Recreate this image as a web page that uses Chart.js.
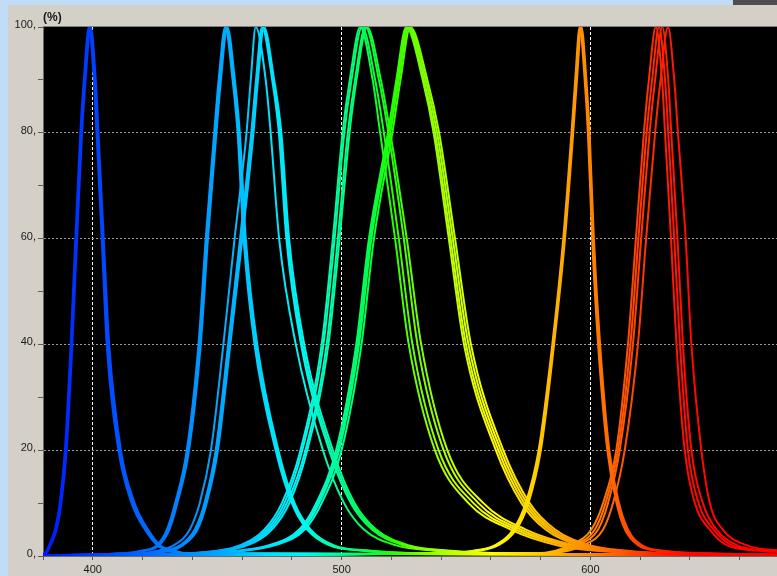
<!DOCTYPE html>
<html>
<head>
<meta charset="utf-8">
<script src="https://cdn.jsdelivr.net/npm/chart.js@4.4.1/dist/chart.umd.min.js"></script>
<style>
  html, body { margin: 0; padding: 0; background: #c0dcf6; }
  #wrap { width: 777px; height: 576px; }
</style>
</head>
<body>
<div id="wrap"><canvas id="grafico" width="777" height="576"></canvas></div>
<script>
const levels = [0.5, 1, 2, 5, 10, 20, 40, 60, 80, 90];

// ~398 nm
const uvPeaks = [398.4, 398.8, 399.2];
const uvLeft = [
  [380.6, 381.4, 382.4, 384.8, 386.7, 388.8, 391.1, 393.0, 395.0, 396.4],
  [380.9, 381.7, 382.7, 385.1, 387.0, 389.1, 391.4, 393.3, 395.3, 396.7],
  [381.2, 382.0, 383.0, 385.5, 387.4, 389.5, 391.8, 393.7, 395.7, 397.1]
];
const uvRight = [
  [436, 431, 426.0, 421.0, 415.6, 410.3, 405.6, 403.6, 401.5, 400.4],
  [437, 432, 426.6, 421.6, 416.2, 410.8, 406.1, 404.0, 401.9, 400.8],
  [438, 433, 427.2, 422.2, 416.8, 411.3, 406.6, 404.4, 402.3, 401.2]
];

// ~453 nm
const bluePeaks = [453.2, 453.6, 454.1];
const blueLeft = [
  [412, 419.5, 425.6, 429.8, 433.1, 437.8, 442.5, 445.4, 448.8, 450.6],
  [413, 420.0, 426.0, 430.2, 433.5, 438.2, 442.9, 445.8, 449.2, 451.0],
  [414, 421.0, 426.6, 430.8, 434.0, 438.7, 443.4, 446.3, 449.7, 451.5]
];
const blueRight = [
  [530, 508, 495.2, 486.2, 480.0, 473.5, 465.0, 460.6, 458.2, 456.2],
  [532, 510, 496.0, 486.9, 480.5, 474.0, 465.5, 461.0, 458.6, 456.6],
  [534, 512, 497.0, 487.6, 481.1, 474.6, 466.1, 461.5, 459.1, 457.1]
];

// ~468 nm
const cyanPeaks = [465.5, 468.0, 468.4, 468.8];
const cyanLeft = [
  [418, 426, 432.5, 439.0, 443.0, 447.5, 452.5, 457.0, 461.8, 463.5],
  [419, 429, 435.0, 441.0, 444.9, 449.4, 454.4, 459.2, 463.7, 465.6],
  [420, 430, 435.5, 441.5, 445.3, 449.8, 454.8, 459.6, 464.1, 466.0],
  [421, 431, 436.2, 442.1, 445.8, 450.3, 455.3, 460.1, 464.6, 466.4]
];
const cyanRight = [
  [560, 537, 522.0, 509.0, 501.0, 492.5, 481.6, 474.9, 471.5, 469.5],
  [563, 540, 525.0, 512.2, 503.7, 495.0, 483.7, 477.8, 474.8, 472.1],
  [565, 542, 526.0, 513.0, 504.4, 495.7, 484.3, 478.3, 475.3, 472.5],
  [567, 544, 527.2, 513.9, 505.2, 496.5, 485.0, 478.9, 475.8, 472.9]
];

// ~508 nm
const tealPeaks = [507.5, 508.2, 509.6, 510.2];
const tealLeft = [
  [436, 450, 459, 469, 476, 483.5, 492.0, 496.5, 500.4, 503.3],
  [437, 451, 460, 470, 477, 484.2, 492.7, 497.2, 501.1, 504.0],
  [438, 452, 461, 471, 478, 485.5, 494.0, 498.5, 502.5, 505.4],
  [439, 453, 462, 472, 479, 486.2, 494.7, 499.2, 503.2, 506.0]
];
const tealRight = [
  [622, 602, 587, 568, 551, 537.5, 527.0, 521.5, 515.5, 512.5],
  [625, 605, 590, 570, 553, 539.0, 528.5, 523.0, 517.0, 513.5],
  [628, 608, 592, 572, 555, 541.0, 530.5, 525.0, 518.8, 515.0],
  [630, 610, 594, 574, 557, 542.5, 532.0, 526.2, 519.6, 515.8]
];

// ~527 nm
const greenPeaks = [526.0, 526.5, 527.0, 527.6];
const greenLeft = [
  [443, 458, 470.5, 483.0, 489.8, 497.8, 505.9, 511.0, 518.6, 522.0],
  [444, 459, 471.5, 483.8, 490.5, 498.5, 506.5, 511.6, 519.2, 522.5],
  [445, 460, 472.0, 484.3, 491.0, 499.0, 507.0, 512.0, 519.6, 523.0],
  [446, 461, 473.0, 485.2, 492.0, 500.0, 508.0, 513.0, 520.4, 523.7]
];
const greenRight = [
  [627, 609, 595.5, 582.0, 572.3, 562.0, 549.2, 543.1, 537.0, 532.6],
  [629, 611, 597.0, 583.3, 573.4, 563.0, 550.0, 543.8, 537.6, 533.1],
  [631, 613, 598.6, 584.5, 574.5, 564.0, 551.0, 544.7, 538.4, 533.8],
  [633, 615, 600.0, 585.8, 575.6, 565.0, 552.0, 545.6, 539.2, 534.5]
];

// ~596 nm
const amberPeaks = [595.7, 596.0, 596.4];
const amberLeft = [
  [539, 553, 561.5, 569.0, 574.0, 579.2, 584.7, 589.1, 592.4, 593.9],
  [540, 554, 562.0, 569.5, 574.5, 579.6, 585.0, 589.4, 592.7, 594.2],
  [541, 555, 562.8, 570.2, 575.1, 580.1, 585.4, 589.8, 593.1, 594.6]
];
const amberRight = [
  [643, 626.5, 619.3, 613.9, 610.5, 606.8, 603.1, 600.7, 599.0, 597.7],
  [645, 628.0, 620.0, 614.5, 611.0, 607.2, 603.5, 601.0, 599.3, 598.0],
  [647, 629.5, 620.8, 615.1, 611.5, 607.6, 603.9, 601.4, 599.7, 598.4]
];

// ~628 nm
const redPeaks = [626.3, 627.6, 628.9, 631.2];
const redLeft = [
  [578, 586, 591.7, 600.4, 605.1, 610.4, 615.1, 618.3, 621.5, 623.5],
  [580, 588, 593.0, 601.8, 606.1, 611.1, 616.1, 619.3, 622.6, 624.8],
  [581, 589, 594.4, 603.1, 607.1, 611.8, 617.1, 620.4, 623.8, 626.0],
  [583, 591, 597.0, 605.1, 609.1, 613.8, 619.1, 622.4, 626.0, 628.2]
];
const redRight = [
  [690, 668, 655, 648.0, 642.0, 637.9, 634.6, 632.4, 630.0, 628.8],
  [692, 670, 657, 649.5, 643.5, 639.2, 636.0, 633.7, 631.3, 630.0],
  [695, 673, 659, 650.7, 645.2, 640.6, 637.2, 635.0, 632.5, 631.3],
  [700, 678, 663, 653.2, 648.0, 644.6, 640.6, 638.3, 635.2, 633.7]
];

const groups = [
  [uvPeaks, uvLeft, uvRight],
  [bluePeaks, blueLeft, blueRight],
  [cyanPeaks, cyanLeft, cyanRight],
  [tealPeaks, tealLeft, tealRight],
  [greenPeaks, greenLeft, greenRight],
  [amberPeaks, amberLeft, amberRight],
  [redPeaks, redLeft, redRight]
];

const xTicks = [400, 500, 600];
const yTicks = [0, 20, 40, 60, 80, 100];

// wavelength -> colour for the line gradient
const specNm = [380, 400, 425, 445, 455, 470, 485, 500, 510, 520, 530, 545, 560, 575, 590, 600, 612, 625, 640, 675];
const specCol = ['#0018ff', '#0040ff', '#0070ff', '#009cff', '#00b0ff', '#00e0ff', '#00f8f0', '#00ff90',
                 '#00ff50', '#20ff00', '#70ff00', '#c0ff00', '#ffff00', '#ffd800', '#ffa400', '#ff8400',
                 '#ff5a00', '#ff2a00', '#ff0800', '#ff0000'];

function curvePoints(peak, left, right) {
  const pts = [{x: 370, y: 0.1}];
  left.forEach((w, i) => pts.push({x: w, y: levels[i]}));
  pts.push({x: peak, y: 100});
  for (let i = right.length - 1; i >= 0; i--) pts.push({x: right[i], y: levels[i]});
  pts.push({x: 720, y: 0.1});
  return pts;
}

let grad = null;
function spectrum(context) {
  const chart = context.chart;
  if (!chart.chartArea || !chart.scales.x) return '#ffffff';
  if (!grad) {
    const sx = chart.scales.x;
    const x0 = sx.getPixelForValue(380);
    const x1 = sx.getPixelForValue(675);
    grad = chart.ctx.createLinearGradient(x0, 0, x1, 0);
    specNm.forEach((nm, i) => grad.addColorStop((nm - 380) / 295, specCol[i]));
  }
  return grad;
}

const datasets = [];
groups.forEach(g => {
  const peaks = g[0], lefts = g[1], rights = g[2];
  peaks.forEach((p, i) => {
    datasets.push({
      data: curvePoints(p, lefts[i], rights[i]),
      borderColor: spectrum,
      borderWidth: 2,
      pointRadius: 0,
      cubicInterpolationMode: 'monotone',
      fill: false
    });
  });
});

const frame = {
  id: 'frame',
  beforeDraw(chart) {
    const c = chart.ctx, a = chart.chartArea;
    c.save();
    c.fillStyle = '#c0dcf6';
    c.fillRect(0, 0, chart.width, chart.height);
    c.fillStyle = '#d4d0c8';
    c.fillRect(8, 5, chart.width - 8, chart.height - 5);
    c.fillStyle = '#4e4e4e';
    c.fillRect(733, 0, chart.width - 733, 5);
    c.fillStyle = '#000000';
    c.fillRect(a.left, a.top, a.right - a.left, a.bottom - a.top);
    c.fillStyle = '#1a1a1a';
    c.font = 'bold 12px "Liberation Sans", Arial, sans-serif';
    c.textBaseline = 'alphabetic';
    c.fillText('(%)', a.left, 21);
    c.restore();
  },
  afterDatasetsDraw(chart) {
    const c = chart.ctx, a = chart.chartArea;
    c.save();
    c.strokeStyle = '#808080';
    c.lineWidth = 1;
    c.beginPath();
    c.moveTo(a.left, a.top - 0.5);
    c.lineTo(a.right, a.top - 0.5);
    c.stroke();
    c.restore();
  }
};

Chart.defaults.font.family = '"Liberation Sans", Arial, sans-serif';
Chart.defaults.font.size = 11;
Chart.defaults.color = '#1a1a1a';

const grafx = document.getElementById('grafico').getContext('2d');
const grafico = new Chart(grafx, {
  type: 'line',
  data: { datasets: datasets },
  plugins: [frame],
  options: {
    responsive: false,
    animation: false,
    events: [],
    layout: { padding: { top: 27, left: 0, right: 0, bottom: 0 } },
    plugins: { legend: { display: false }, tooltip: { enabled: false } },
    scales: {
      x: {
        type: 'linear',
        min: 380,
        max: 675,
        afterFit: s => { s.height = 20; },
        afterBuildTicks: s => { s.ticks = s.ticks.filter(t => t.value % 20 === 0); },
        border: { color: '#6a6a6a', width: 1, dash: [3, 2] },
        grid: {
          color: ctx => (ctx.tick && xTicks.includes(ctx.tick.value)) ? '#ffffff' : 'rgba(0,0,0,0)',
          tickColor: '#5a5a5a',
          tickLength: 4,
          lineWidth: 1
        },
        ticks: {
          stepSize: 20,
          maxRotation: 0,
          autoSkip: false,
          padding: 3,
          callback: v => xTicks.includes(v) ? String(v) : ''
        }
      },
      y: {
        min: 0,
        max: 100,
        afterFit: s => { s.width = 43; },
        border: { color: '#6a6a6a', width: 1, dash: [2, 2] },
        grid: {
          color: ctx => (ctx.tick && ctx.tick.value > 0 && ctx.tick.value < 100 && yTicks.includes(ctx.tick.value)) ? '#9a9a9a' : 'rgba(0,0,0,0)',
          tickColor: '#5a5a5a',
          tickLength: 5,
          lineWidth: 1
        },
        ticks: {
          stepSize: 10,
          autoSkip: false,
          padding: 2,
          labelOffset: -2,
          callback: v => yTicks.includes(v) ? v + ',' : ''
        }
      }
    }
  }
});
</script>
</body>
</html>
